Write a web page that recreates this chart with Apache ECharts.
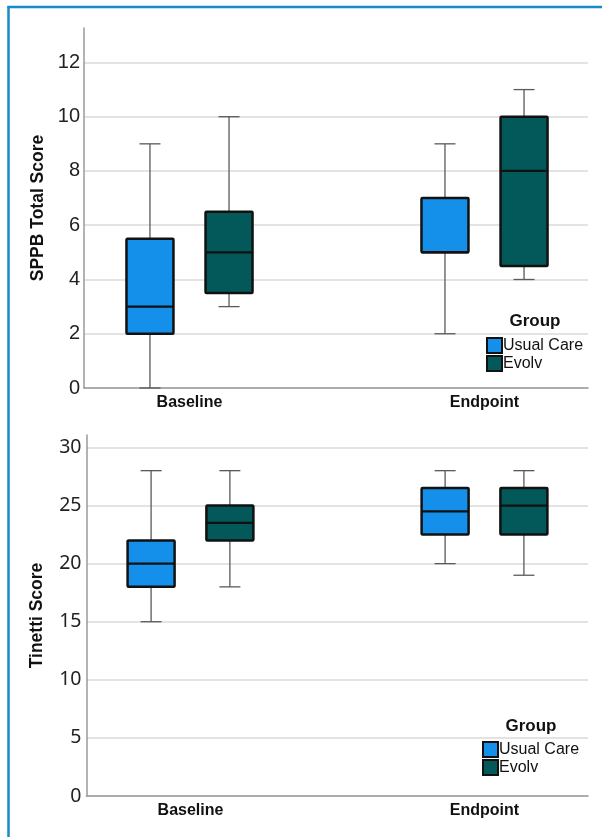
<!DOCTYPE html>
<html><head><meta charset="utf-8">
<script src="https://cdn.jsdelivr.net/npm/echarts@6/dist/echarts.min.js"></script>
<style>html,body{margin:0;padding:0;background:#fff}#c{width:602px;height:837px}</style>
</head><body><div id="c"></div>
<script>
const categories = ['Baseline', 'Endpoint'];
const groups = ['Usual Care', 'Evolv'];
// each entry: [min, Q1, median, Q3, max], one per category
const sppbUsualCare = [[0, 2, 3, 5.5, 9], [2, 5, 5, 7, 9]];
const sppbEvolv = [[3, 3.5, 5, 6.5, 10], [4, 4.5, 8, 10, 11]];
const tinettiUsualCare = [[15, 18, 20, 22, 28], [20, 22.5, 24.5, 26.5, 28]];
const tinettiEvolv = [[18, 22, 23.5, 25, 28], [19, 22.5, 25, 26.5, 28]];
const sppbTicks = [0, 2, 4, 6, 8, 10, 12];
const tinettiTicks = [0, 5, 10, 15, 20, 25, 30];

const colors = { 'Usual Care': '#1590ea', 'Evolv': '#03585a' };
const toData = arr => arr.map((v, i) => [i].concat(v));
const SANS = "'Liberation Sans', Arial, sans-serif";

function makeRender(offset) {
  return function (params, api) {
    const c = api.value(0) + offset;
    const pMin = api.coord([c, api.value(1)]);
    const pQ1 = api.coord([c, api.value(2)]);
    const pMed = api.coord([c, api.value(3)]);
    const pQ3 = api.coord([c, api.value(4)]);
    const pMax = api.coord([c, api.value(5)]);
    const x = pMin[0], hw = 23.5, cw = 10.5;
    const color = api.visual('color');
    const w = { stroke: '#5a5a5a', lineWidth: 1.3 };
    return {
      type: 'group', children: [
        { type: 'line', shape: { x1: x, y1: pMax[1], x2: x, y2: pQ3[1] }, style: w },
        { type: 'line', shape: { x1: x, y1: pQ1[1], x2: x, y2: pMin[1] }, style: w },
        { type: 'line', shape: { x1: x - cw, y1: pMax[1], x2: x + cw, y2: pMax[1] }, style: w },
        { type: 'line', shape: { x1: x - cw, y1: pMin[1], x2: x + cw, y2: pMin[1] }, style: w },
        { type: 'rect', shape: { x: x - hw, y: pQ3[1], width: 2 * hw, height: pQ1[1] - pQ3[1], r: 1 }, style: { fill: color, stroke: '#111', lineWidth: 2.5 } },
        { type: 'line', shape: { x1: x - hw, y1: pMed[1], x2: x + hw, y2: pMed[1] }, style: { stroke: '#111', lineWidth: 2.3 } }
      ]
    };
  };
}

const axisLineStyle = { color: '#9a9a9a', width: 1.5 };
const gridLineStyle = { color: '#dadada', width: 1.5 };

function xAxisCfg(gridIndex, min, max) {
  return {
    type: 'value', gridIndex, min, max,
    axisLine: { show: true, onZero: false, lineStyle: axisLineStyle },
    axisTick: { show: false },
    splitLine: { show: false },
    axisLabel: {
      customValues: [0, 1], formatter: v => categories[Math.round(v)] || '',
      fontFamily: SANS, fontWeight: 'bold', fontSize: 16, color: '#111', margin: 7
    }
  };
}
function yAxisCfg(gridIndex, max, interval, name, font, fontSize, nameGap, margin) {
  return {
    type: 'value', gridIndex, min: 0, max, interval,
    name, nameLocation: 'middle', nameRotate: 90, nameGap,
    nameTextStyle: { fontFamily: SANS, fontWeight: 'bold', fontSize: 17.5, color: '#111' },
    axisLine: { show: true, onZero: false, lineStyle: axisLineStyle },
    axisTick: { show: false },
    splitLine: { show: true, showMaxLine: false, lineStyle: gridLineStyle },
    axisLabel: { showMaxLabel: false, fontFamily: font, fontSize, color: '#222', margin }
  };
}

const legendItem = n => ({ name: n, itemStyle: { color: colors[n], borderColor: '#111', borderWidth: 2 } });
const legendCfg = (left, top) => ({
  orient: 'vertical', left, top, padding: 0, icon: 'rect', itemWidth: 15, itemHeight: 15, itemGap: 1,
  selectedMode: false,
  data: groups.map(legendItem),
  textStyle: { fontFamily: SANS, fontSize: 16, color: '#111', padding: [0, 0, 0, -4] }
});

const series = [];
[[sppbUsualCare, sppbEvolv, 0], [tinettiUsualCare, tinettiEvolv, 1]].forEach(([uc, ev, gi]) => {
  series.push({ type: 'custom', name: groups[0], xAxisIndex: gi, yAxisIndex: gi, itemStyle: { color: colors[groups[0]] }, renderItem: makeRender(-0.134), data: toData(uc), encode: { x: 0, y: [1, 2, 3, 4, 5] } });
  series.push({ type: 'custom', name: groups[1], xAxisIndex: gi, yAxisIndex: gi, itemStyle: { color: colors[groups[1]] }, renderItem: makeRender(0.134), data: toData(ev), encode: { x: 0, y: [1, 2, 3, 4, 5] } });
});

const chart = echarts.init(document.getElementById('c'), null, { renderer: 'canvas' });
chart.setOption({
  animation: false,
  backgroundColor: '#fff',
  grid: [
    { left: 84, right: 14, top: 28, bottom: 449 },
    { left: 86.5, right: 14, top: 435, bottom: 41 }
  ],
  xAxis: [xAxisCfg(0, -0.3576, 1.3508), xAxisCfg(1, -0.3537, 1.352)],
  yAxis: [
    yAxisCfg(0, 13.27, 2, 'SPPB Total Score', SANS, 20, 37, 4),
    yAxisCfg(1, 31.07, 5, 'Tinetti Score', 'Noto Sans', 19.5, 40, 5)
  ],
  legend: [legendCfg(486, 337), legendCfg(482, 741)],
  graphic: [
    { type: 'line', shape: { x1: 7.5, y1: 7, x2: 602, y2: 7 }, style: { stroke: '#1a8ac6', lineWidth: 2.5 } },
    { type: 'line', shape: { x1: 8.5, y1: 6, x2: 8.5, y2: 837 }, style: { stroke: '#1a8ac6', lineWidth: 2.5 } },
    { type: 'text', x: 535, y: 321, style: { text: 'Group', font: "bold 17px 'Liberation Sans', Arial", fill: '#111', textAlign: 'center', textVerticalAlign: 'middle' } },
    { type: 'text', x: 531, y: 726, style: { text: 'Group', font: "bold 17px 'Liberation Sans', Arial", fill: '#111', textAlign: 'center', textVerticalAlign: 'middle' } }
  ],
  series
});
</script>
</body></html>
